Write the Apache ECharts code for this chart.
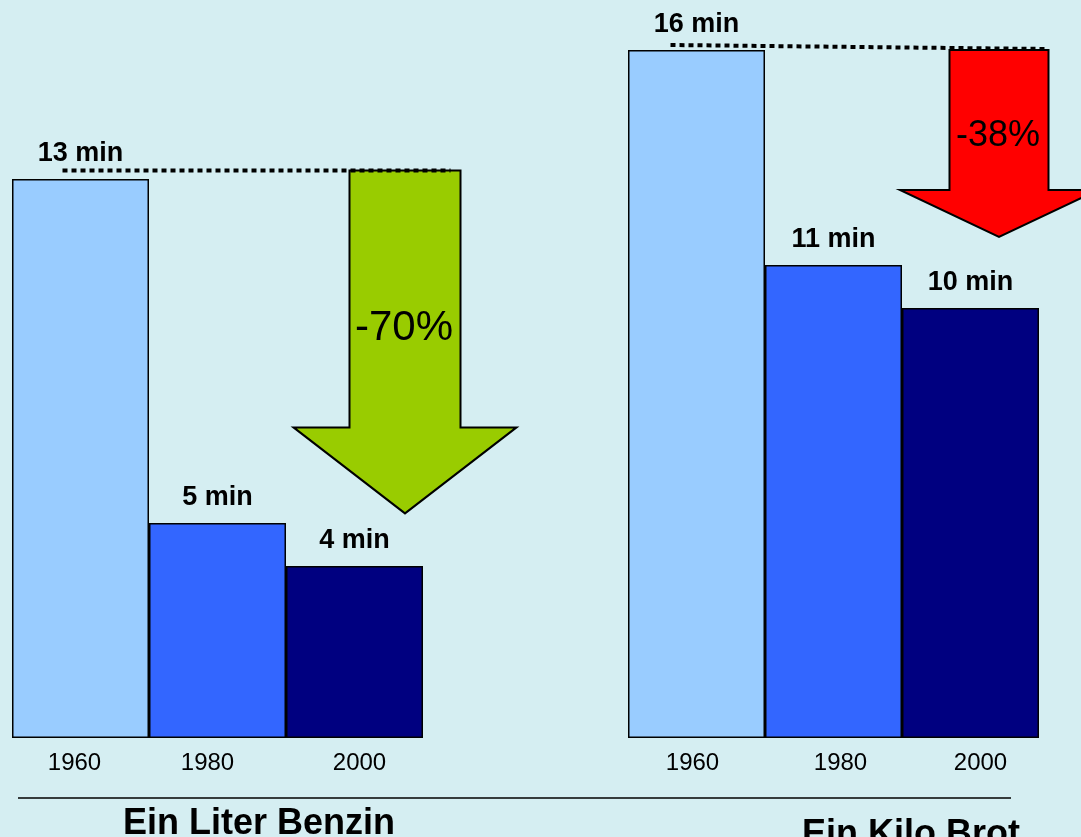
<!DOCTYPE html>
<html><head><meta charset="utf-8">
<script src="https://cdn.jsdelivr.net/npm/echarts@6/dist/echarts.min.js"></script>
<style>html,body{margin:0;padding:0;background:#d5eef2}#c{width:1081px;height:837px}</style>
</head><body><div id="c"></div>
<script>
const years = ['1960', '1980', '2000'];
const benzinMinutes = [13, 5, 4];
const brotMinutes = [16, 11, 10];
const panelTitles = ['Ein Liter Benzin', 'Ein Kilo Brot'];
const changeLabels = ['-70%', '-38%'];
const referenceLevels = [13.2, 16.07];
const barColors = ['#99ccff', '#3366ff', '#000080'];
const arrowColors = ['#99cc00', '#ff0000'];

const FONT = '"Liberation Sans", Arial, Helvetica, sans-serif';
const chart = echarts.init(document.getElementById('c'), null, {renderer: 'canvas'});

function barSeries(values, idx) {
  return {
    type: 'bar', xAxisIndex: idx, yAxisIndex: idx,
    barCategoryGap: '0%',
    data: values.map((v, i) => ({value: v, itemStyle: {color: barColors[i]}})),
    itemStyle: {borderColor: '#000', borderWidth: 1.5},
    label: {show: true, position: 'top', distance: 12, formatter: '{c} min',
      fontFamily: FONT, fontWeight: 'bold', fontSize: 27, color: '#000'},
    animation: false, silent: true, z: 2
  };
}
// small horizontal nudges of the year labels, as in the original layout
const labelShift = [[-6, -10, 5], [-4, 7, 10]];
function xAx(idx) {
  const rich = {};
  labelShift[idx].forEach((d, i) => {
    rich['p' + i] = {fontFamily: FONT, fontSize: 24, color: '#000',
      padding: d > 0 ? [0, 0, 0, 2 * d] : [0, -2 * d, 0, 0]};
  });
  return {type: 'category', gridIndex: idx, data: years,
    axisLine: {show: false}, axisTick: {show: false}, splitLine: {show: false},
    axisLabel: {fontFamily: FONT, fontSize: 24, color: '#000', margin: 13,
      formatter: (v, i) => '{p' + i + '|' + v + '}', rich: rich}};
}
function yAx(idx) {
  return {type: 'value', gridIndex: idx, min: 0, max: 16, show: false, splitLine: {show: false}};
}

chart.setOption({
  backgroundColor: '#d5eef2',
  animation: false,
  grid: [
    {left: 12, top: 50, width: 411, height: 688},
    {left: 628, top: 50, width: 411, height: 688}
  ],
  xAxis: [xAx(0), xAx(1)],
  yAxis: [yAx(0), yAx(1)],
  series: [barSeries(benzinMinutes, 0), barSeries(brotMinutes, 1)]
});

// annotations placed through the axes
const arrowGeom = [
  {dx: 50.5, shaftHalf: 55.5, headHalf: 111.5, shaftLen: 257, headLen: 86, lineFrom: -18, lineTo: 96, labelDy: 158, labelSize: 42, arrowTop: 13.2},
  {dx: 28.5, shaftHalf: 49.5, headHalf: 99, shaftLen: 140, headLen: 47, lineFrom: -26, lineTo: 76, labelDy: 86, labelSize: 36, arrowTop: 16.0}
];
const titleGeom = [{dx: 41.5, y: 824}, {dx: 77.5, y: 835}];
const graphics = [];
[benzinMinutes, brotMinutes].forEach((vals, g) => {
  const a = arrowGeom[g];
  const p2000 = chart.convertToPixel({xAxisIndex: g, yAxisIndex: g}, [years[2], a.arrowTop]);
  const p1960 = chart.convertToPixel({xAxisIndex: g, yAxisIndex: g}, [years[0], referenceLevels[g]]);
  const pEnd = chart.convertToPixel({xAxisIndex: g, yAxisIndex: g}, [years[2], referenceLevels[g]]);
  const cx = p2000[0] + a.dx, top = p2000[1];
  const hy = top + a.shaftLen, tip = hy + a.headLen;
  graphics.push({
    type: 'polygon', z: 5,
    shape: {points: [[cx - a.shaftHalf, top], [cx + a.shaftHalf, top], [cx + a.shaftHalf, hy], [cx + a.headHalf, hy], [cx, tip], [cx - a.headHalf, hy], [cx - a.shaftHalf, hy]]},
    style: {fill: arrowColors[g], stroke: '#000', lineWidth: 2}
  });
  graphics.push({
    type: 'text', z: 6, x: cx - 1, y: top + a.labelDy,
    style: {text: changeLabels[g], font: a.labelSize + 'px ' + FONT, fill: '#000', align: 'center', verticalAlign: 'middle'}
  });
  graphics.push({
    type: 'line', z: 7,
    shape: {x1: p1960[0] + a.lineFrom, y1: p1960[1] - (g === 1 ? 2 : 0), x2: pEnd[0] + a.lineTo, y2: pEnd[1] + (g === 1 ? 2 : 0)},
    style: {stroke: '#000', lineWidth: 4, lineDash: [5, 4]}
  });
  const t = titleGeom[g];
  const centerX = chart.convertToPixel({xAxisIndex: g, yAxisIndex: g}, [years[1], 0])[0];
  graphics.push({
    type: 'text', z: 6, x: centerX + t.dx, y: t.y,
    style: {text: panelTitles[g], font: 'bold 36px ' + FONT, fill: '#000', align: 'center', verticalAlign: 'middle'}
  });
});
graphics.push({type: 'line', z: 4, shape: {x1: 18, y1: 798, x2: 1011, y2: 798}, style: {stroke: '#000', lineWidth: 1.5}});
chart.setOption({graphic: graphics});
</script>
</body></html>
